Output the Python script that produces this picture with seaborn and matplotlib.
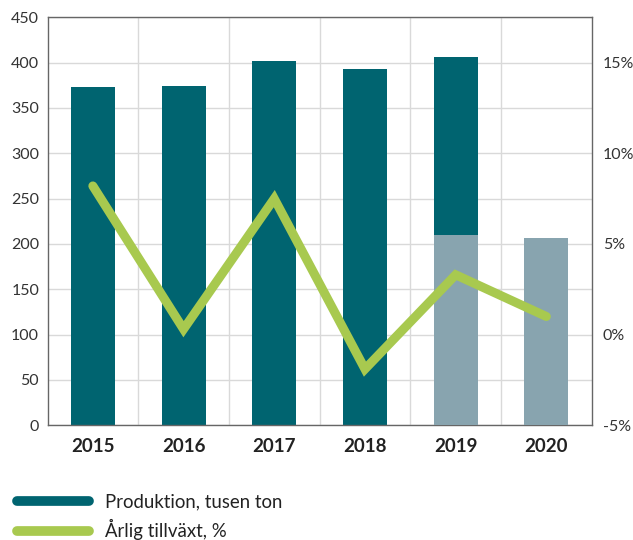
import numpy as np
import pandas as pd
import matplotlib
matplotlib.use('Agg')
import matplotlib.pyplot as plt
from matplotlib.lines import Line2D
import seaborn as sns

# Data
years = ['2015', '2016', '2017', '2018', '2019', '2020']
produktion = [373, 374, 402, 393, 406, np.nan]
prognos = [np.nan, np.nan, np.nan, np.nan, 209.5, 206.6]
tillvaxt = [8.2, 0.3, 7.5, -1.9, 3.3, 1.0]

dark = '#006470'
light = '#88a4af'
green = '#a8c94f'

sns.set_theme(style='white')
plt.rcParams['font.family'] = ['Lato', 'DejaVu Sans']

fig = plt.figure(figsize=(6.33, 5.4), dpi=100)
ax = fig.add_axes([47.5 / 633, 1 - 425.3 / 540, 544.2 / 633, 408 / 540])

df = pd.DataFrame({'year': years, 'prod': produktion, 'prog': prognos})
sns.barplot(data=df, x='year', y='prod', order=years, color=dark,
            saturation=1, width=0.485, linewidth=0, ax=ax, zorder=2)
sns.barplot(data=df, x='year', y='prog', order=years, color=light,
            saturation=1, width=0.485, linewidth=0, ax=ax, zorder=3)

ax.set_xlim(-0.5, 5.5)
ax.set_ylim(0, 450)
ax.set_yticks(range(0, 451, 50))
ax.set_xticks(np.arange(0.5, 5, 1), minor=True)
ax.grid(True, which='minor', axis='x', color='#d9d9d9', lw=1, zorder=0)
ax.grid(True, which='major', axis='y', color='#d9d9d9', lw=1, zorder=0)
ax.set_axisbelow(True)
ax.set_xlabel('')
ax.set_ylabel('')
ax.tick_params(axis='y', length=0, labelsize=11.5, colors='#333333', pad=6)
ax.tick_params(axis='x', which='both', length=0, pad=9)
for lab in ax.get_xticklabels():
    lab.set_fontweight('bold')
    lab.set_fontsize(13.5)
    lab.set_color('#222222')
for s in ax.spines.values():
    s.set_color('#666666')
    s.set_linewidth(1)

ax2 = ax.twinx()
sns.lineplot(x=np.arange(len(years)), y=tillvaxt, color=green, lw=6.5,
             ax=ax2, solid_capstyle='round', solid_joinstyle='miter')
ax2.set_ylim(-5, 17.5)
ax2.set_yticks([-5, 0, 5, 10, 15])
ax2.set_yticklabels(['-5%', '0%', '5%', '10%', '15%'])
ax2.tick_params(axis='y', length=0, labelsize=11.5, colors='#333333', pad=8)
ax2.grid(False)
for s in ax2.spines.values():
    s.set_visible(False)

handles = [Line2D([0], [0], color=dark, lw=7, solid_capstyle='round'),
           Line2D([0], [0], color=green, lw=7, solid_capstyle='round')]
fig.legend(handles, ['Produktion, tusen ton', 'Årlig tillväxt, %'],
           loc='upper left', bbox_to_anchor=(0.0, 1 - 477 / 540),
           frameon=False, fontsize=13.4, handlelength=3.9, handletextpad=0.85,
           labelspacing=0.45, labelcolor='#222222')

fig.savefig('out.png', dpi=100)
